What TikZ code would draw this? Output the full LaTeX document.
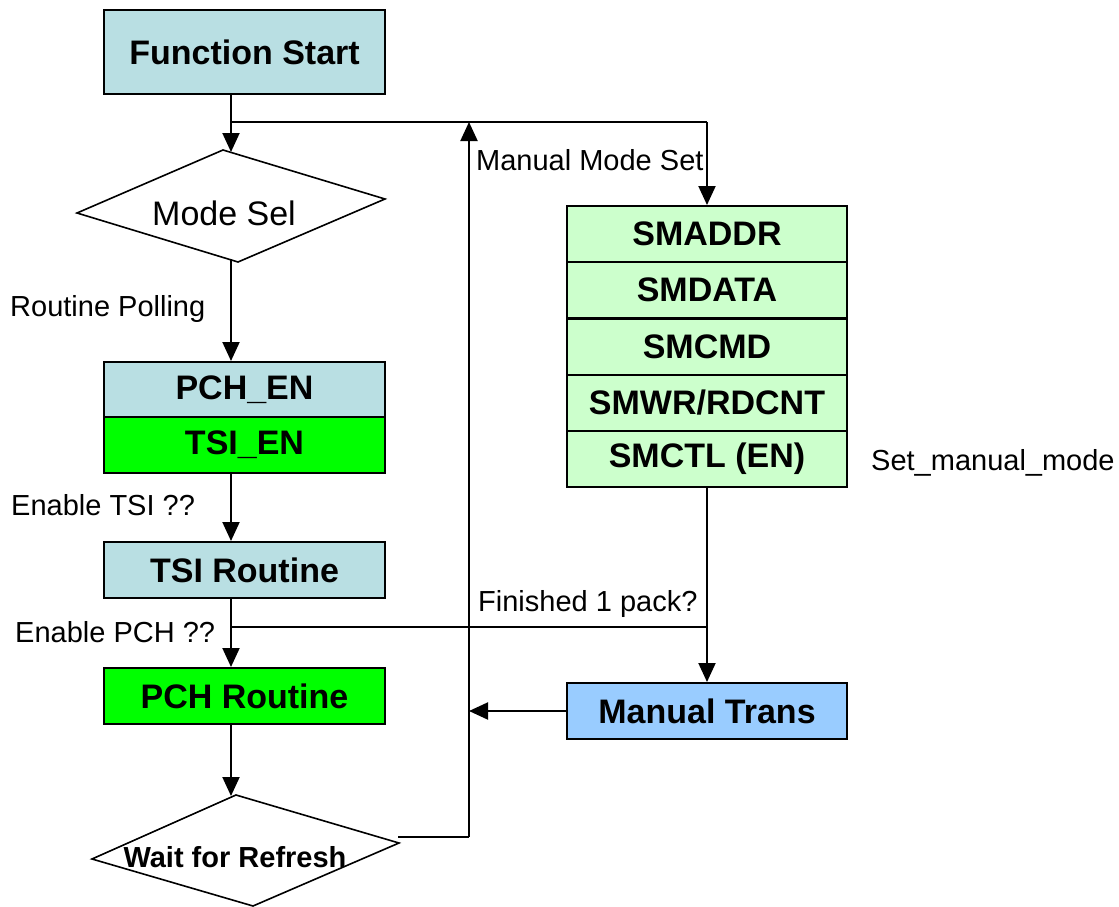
\documentclass[tikz,border=0pt]{standalone}
\usepackage{fontspec}
\setmainfont{Liberation Sans}
\usetikzlibrary{arrows.meta,calc}
\definecolor{teal1}{HTML}{B9DFE3}
\definecolor{green1}{HTML}{00FF00}
\definecolor{lgreen}{HTML}{CCFFCC}
\definecolor{lblue}{HTML}{99CCFF}
\begin{document}
\begin{tikzpicture}[x=1pt,y=-1pt,
  box/.style={draw=black,line width=2pt,inner sep=0pt,minimum width=281pt,
    font=\fontsize{34}{40}\selectfont\bfseries},
  lbl/.style={anchor=west,inner sep=0pt,font=\fontsize{29}{34}\selectfont},
  ln/.style={line width=2pt},
  arr/.style={line width=2pt,-{Triangle[length=19pt 0,width=17pt 0]}}]
\useasboundingbox (0,0) rectangle (1119,907);
% column coordinates
\coordinate (colx) at (231,0);
% boxes
\node[box,fill=teal1,minimum height=84pt] (fs) at (244.5,52) {Function Start};
\node[box,fill=teal1,minimum height=55pt] (pchen) at (244.5,389.5) {PCH\_EN};
\node[box,fill=green1,minimum height=56pt] (tsien) at (244.5,445) {TSI\_EN};
\node[box,fill=teal1,minimum height=56pt] (tsir) at (244.5,570) {TSI Routine};
\node[box,fill=green1,minimum height=56pt] (pchr) at (244.5,696) {PCH Routine};
\node[box,fill=lgreen,minimum width=280pt,minimum height=56pt] (s1) at (707,234) {SMADDR};
\node[box,fill=lgreen,minimum width=280pt,minimum height=56pt] (s2) at (707,290) {SMDATA};
\node[box,fill=lgreen,minimum width=280pt,minimum height=56pt] (s3) at (707,346.5) {SMCMD};
\node[box,fill=lgreen,minimum width=280pt,minimum height=56pt] (s4) at (707,403) {SMWR/RDCNT};
\node[box,fill=lgreen,minimum width=280pt,minimum height=56pt] (s5) at (707,459) {SMCTL (EN)};
\node[box,fill=lblue,minimum width=280pt,minimum height=56pt] (mt) at (707,711) {Manual Trans};
% diamonds
\coordinate (msL) at (77,213);
\coordinate (msT) at (223,150);
\coordinate (msR) at (385,199);
\coordinate (msB) at (238,262);
\draw[line width=1.6pt,fill=white] (msL) -- (msT) -- (msR) -- (msB) -- cycle;
\node[inner sep=0pt,font=\fontsize{34}{40}\selectfont] (ms) at (224,213) {Mode Sel};
\coordinate (wL) at (92,859);
\coordinate (wT) at (236,795);
\coordinate (wR) at (399,843);
\coordinate (wB) at (253,906);
\draw[line width=1.6pt,fill=white] (wL) -- (wT) -- (wR) -- (wB) -- cycle;
\node[inner sep=0pt,font=\fontsize{29}{34}\selectfont\bfseries] (wr) at (235,857) {Wait for Refresh};
% junction coordinates
\coordinate (j1) at (231,122);
\coordinate (j2) at (707,122);
\coordinate (b1) at (231,627);
\coordinate (b2) at (707,627);
\coordinate (rv) at (469,122);
\coordinate (rb) at (469,837);
\coordinate (wOut) at (398,837);
\coordinate (msTin) at (231,152);
\coordinate (msBout) at (231,259);
\coordinate (wTin) at (231,796);
\coordinate (mtIn) at (469,711);
% connectors
\draw[ln] (fs.south -| colx) -- (j1);
\draw[arr] (j1) -- (msTin);
\draw[ln] (j1) -- (j2);
\draw[arr] (j2) -- (s1.north);
\draw[arr] (msBout) -- (pchen.north -| colx);
\draw[arr] (tsien.south -| colx) -- (tsir.north -| colx);
\draw[arr] (tsir.south -| colx) -- (pchr.north -| colx);
\draw[arr] (pchr.south -| colx) -- (wTin);
\draw[ln] (b1) -- (b2);
\draw[arr] (s5.south) -- (mt.north);
\draw[arr] (mt.west) -- (mtIn);
\draw[ln] (wOut) -- (rb);
\draw[arr] (rb) -- (rv);
% labels
\node[lbl] (l1) at (476,160) {Manual Mode Set};
\node[lbl] (l2) at (10,309) {Routine Polling};
\node[lbl] (l3) at (11,505) {Enable TSI ??};
\node[lbl] (l4) at (15,632) {Enable PCH ??};
\node[lbl] (l5) at (478,604) {Finished 1 pack?};
\node[lbl] (l6) at (871,463) {Set\_manual\_mode};
\end{tikzpicture}
\end{document}
